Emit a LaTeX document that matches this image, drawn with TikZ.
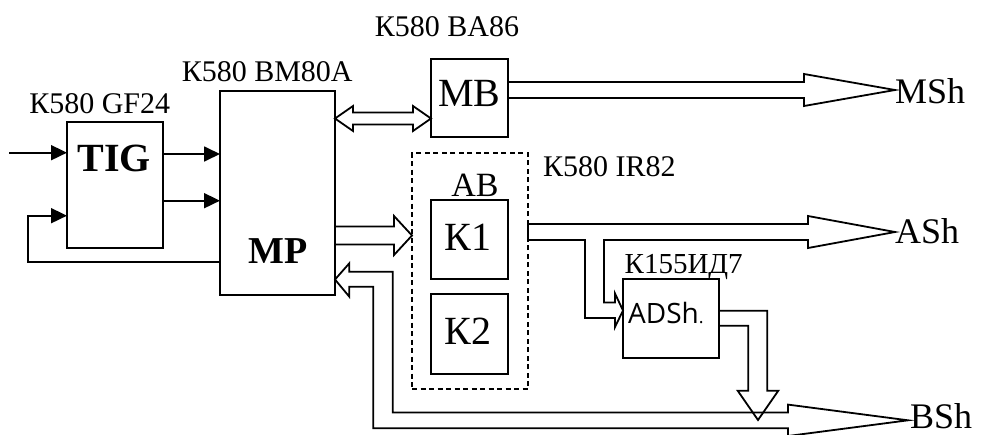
\documentclass[tikz,border=0pt]{standalone}
\usepackage{fontspec}
\setmainfont{Liberation Serif}
\setsansfont{Open Sans}
\usetikzlibrary{arrows.meta,calc}
\tikzset{
  blk/.style={draw, line width=1.8pt, inner sep=0pt, outer sep=0pt, rectangle},
  lbl/.style={inner sep=0pt, anchor=base, font=\fontsize{30}{30}\selectfont},
  big/.style={inner sep=0pt, anchor=base, font=\fontsize{40}{40}\selectfont},
  bus/.style={draw, line width=1.8pt, line join=miter},
  sig/.style={draw, line width=1.8pt, -{Triangle[length=16pt,width=15pt]}}
}
\begin{document}
\begin{tikzpicture}[x=1pt,y=-1pt]
\useasboundingbox (0,0) rectangle (984,434);
\clip (0,0) rectangle (984,434);

% blocks
\node[blk,minimum width=96pt,minimum height=126pt] (TIG) at (115,185) {};
\node[blk,minimum width=115pt,minimum height=204pt] (MP) at (277.5,193) {};
\node[blk,minimum width=77pt,minimum height=78pt] (MB) at (469.5,98) {};
\node[blk,line width=1.6pt,dash pattern=on 5pt off 3.5pt,minimum width=116pt,minimum height=236pt] (AB) at (470,271) {};
\node[blk,minimum width=77pt,minimum height=79pt] (K1) at (469.5,239.5) {};
\node[blk,minimum width=77pt,minimum height=80pt] (K2) at (469.5,334) {};
\node[blk,minimum width=96pt,minimum height=79pt] (ADSh) at (671,318.5) {};

% texts inside blocks
\node[big,font=\bfseries\fontsize{40}{40}\selectfont] (tTIG) at (114,171.7) {TIG};
\node[big,font=\bfseries\fontsize{38}{38}\selectfont] (tMP) at (278,263.3) {MP};
\node[big] (tMB) at (469.5,106.7) {MB};
\node[big] (tK1) at (468,250) {К1};
\node[big] (tK2) at (468,344) {К2};
\node[inner sep=0pt,anchor=base,font=\fontsize{34}{34}\selectfont] (tAB) at (475,196) {AB};
\node[inner sep=0pt,anchor=base west,font=\sffamily\fontsize{28}{28}\selectfont] (tADSh) at (628,323) {ADSh{\fontsize{18}{18}\selectfont.}};

% chip labels
\node[lbl] (lGF) at (99.7,113.3) {К580 GF24};
\node[lbl] (lBM) at (267.2,81.7) {К580 BM80A};
\node[lbl] (lBA) at (447,36) {К580 BA86};
\node[lbl,anchor=base west] (lIR) at (543,176) {К580 IR82};
\node[lbl,font=\fontsize{29}{29}\selectfont] (lID) at (683.7,273.3) {К155ИД7};

% bus names
\node[inner sep=0pt,anchor=base west,font=\fontsize{36}{36}\selectfont] (lMSh) at (895,103.3) {MSh};
\node[inner sep=0pt,anchor=base west,font=\fontsize{36}{36}\selectfont] (lASh) at (895,243) {ASh};
\node[inner sep=0pt,anchor=base west,font=\fontsize{36}{36}\selectfont] (lBSh) at (910,428) {BSh};

% signal lines
\coordinate (in) at (9,152.7);
\draw[sig] (in) -- (in -| TIG.west);
\draw[sig] (TIG.east |- 0,154) -- (MP.west |- 0,154);
\draw[sig] (TIG.east |- 0,200.7) -- (MP.west |- 0,200.7);
\coordinate (fb) at (28,215.7);
\draw[sig] (MP.west |- 0,262.3) -| (fb) -- (fb -| TIG.west);

% MP <-> MB
\draw[bus] (MP.east |- 0,118.5) -- (353,106) -- (353,112.5) -- (413,112.5) -- (413,106)
  -- (MB.west |- 0,118.5) -- (413,131) -- (413,124.5) -- (353,124.5) -- (353,131) -- cycle;

% MSh bus
\draw[bus] (MB.east |- 0,82) -- (804,82) -- (804,74) -- (lMSh.west |- 0,90) -- (804,106)
  -- (804,98) -- (MB.east |- 0,98);

% MP -> AB
\draw[bus] (MP.east |- 0,226.5) -- (394,226.5) -- (394,216) -- (AB.west |- 0,235.5)
  -- (394,255) -- (394,244.5) -- (MP.east |- 0,244.5);

% ASh bus with branch to ADSh
\draw[bus] (AB.east |- 0,224) -- (808,224) -- (808,216) -- (lASh.west |- 0,232) -- (808,248)
  -- (808,240) -- (604,240) -- (604,302.5) -- (615,302.5) -- (615,293.5)
  -- (ADSh.west |- 0,310.5) -- (615,327) -- (615,318) -- (585,318) -- (585,240)
  -- (AB.east |- 0,240) -- cycle;

% ADSh -> BSh
\draw[bus] (ADSh.east |- 0,310.7) -- (767.3,310.7) -- (767.3,390.7) -- (778.3,390.7)
  -- (758,420) -- (737.7,390.7) -- (748.3,390.7) -- (748.3,325.7) -- (ADSh.east |- 0,325.7);

% BSh bus with return to MP
\draw[bus] (MP.east |- 0,279.5) -- (349.3,263.3) -- (349.3,271.7) -- (392.7,271.7)
  -- (392.7,412.5) -- (788,412.5) -- (788,404.6) -- (908,420.3) -- (788,436)
  -- (788,428.3) -- (373.3,428.3) -- (373.3,286.7) -- (349.3,286.7) -- (349.3,296.7) -- cycle;
\end{tikzpicture}
\end{document}
